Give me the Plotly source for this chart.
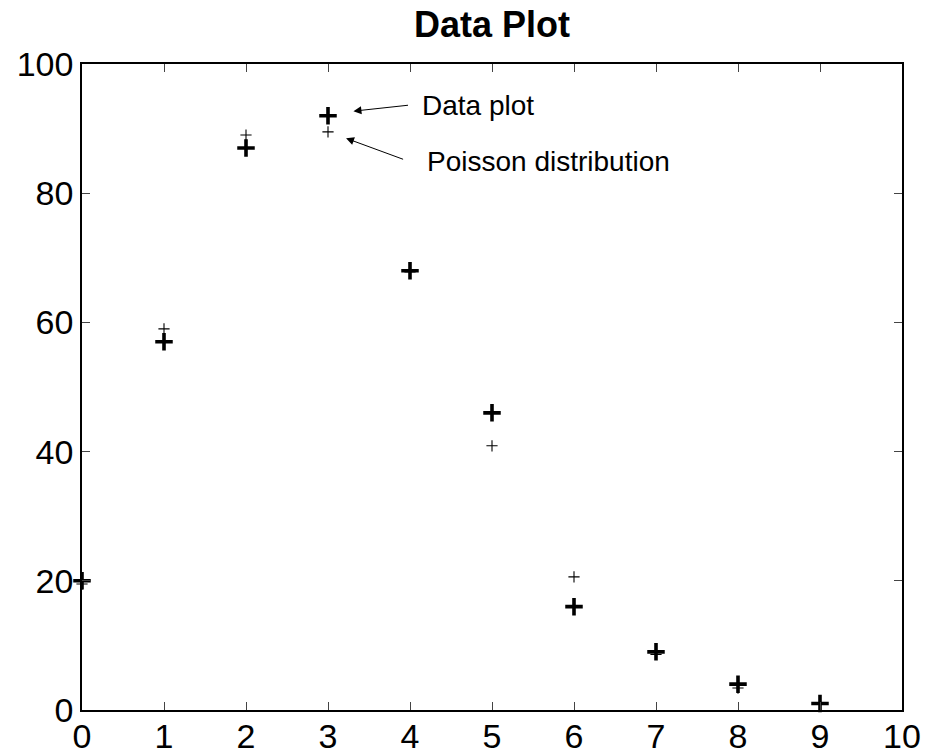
import plotly.graph_objects as go

x_vals = [0, 1, 2, 3, 4, 5, 6, 7, 8, 9]
data_counts = [20, 57, 87, 92, 68, 46, 16, 9, 4, 1]
poisson_counts = [19.5, 59, 89, 89.5, 67.8, 40.9, 20.6, 8.6, 3.4, 1.1]
tick_x = [0, 1, 2, 3, 4, 5, 6, 7, 8, 9, 10]
tick_y = [0, 20, 40, 60, 80, 100]

FONT = "Liberation Sans, Arial, sans-serif"

fig = go.Figure()
fig.add_trace(go.Scatter(
    x=x_vals, y=poisson_counts, mode="markers",
    marker=dict(symbol="cross-thin", size=8, line=dict(width=1.1, color="black"), color="black"),
    showlegend=False, cliponaxis=False))
fig.add_trace(go.Scatter(
    x=x_vals, y=data_counts, mode="markers",
    marker=dict(symbol="cross-thin", size=12.5, line=dict(width=3.6, color="black"), color="black"),
    showlegend=False, cliponaxis=False))

fig.add_annotation(x=3.31, y=92.7, ax=4.0, ay=93.65, axref="x", ayref="y",
                   text=" ", showarrow=True, arrowhead=2, arrowsize=1.6, arrowwidth=1,
                   arrowcolor="black", font=dict(size=2))
fig.add_annotation(x=3.22, y=88.5, ax=3.94, ay=85.14, axref="x", ayref="y",
                   text=" ", showarrow=True, arrowhead=2, arrowsize=1.6, arrowwidth=1,
                   arrowcolor="black", font=dict(size=2))
fig.add_annotation(x=4.12, y=93.65, text="Data plot", showarrow=False,
                   xanchor="left", yanchor="middle",
                   font=dict(family=FONT, size=28, color="black"))
fig.add_annotation(x=4.18, y=84.98, text="Poisson distribution", showarrow=False,
                   xanchor="left", yanchor="middle",
                   font=dict(family=FONT, size=28, color="black"))

axis_common = dict(showline=True, linecolor="black", linewidth=1.5, mirror="ticks",
                   ticks="inside", ticklen=8, tickwidth=1, tickcolor="#444",
                   showgrid=False, zeroline=False, automargin=False,
                   tickfont=dict(family=FONT, size=34, color="black"))

fig.update_xaxes(range=[0, 10], tickvals=tick_x, ticktext=[str(v) for v in tick_x],
                 ticklabelstandoff=-5, **axis_common)
fig.update_yaxes(range=[0, 100], tickvals=tick_y, ticktext=[str(v) for v in tick_y], **axis_common)

fig.update_layout(
    width=926, height=754,
    margin=dict(l=82, r=24, t=64, b=44),
    paper_bgcolor="white", plot_bgcolor="white",
    title=dict(text="<b>Data Plot</b>", x=0.5313, xanchor="center", y=0.968, yanchor="middle",
               font=dict(family=FONT, size=36, color="black")),
)

fig.write_html("out.html")
